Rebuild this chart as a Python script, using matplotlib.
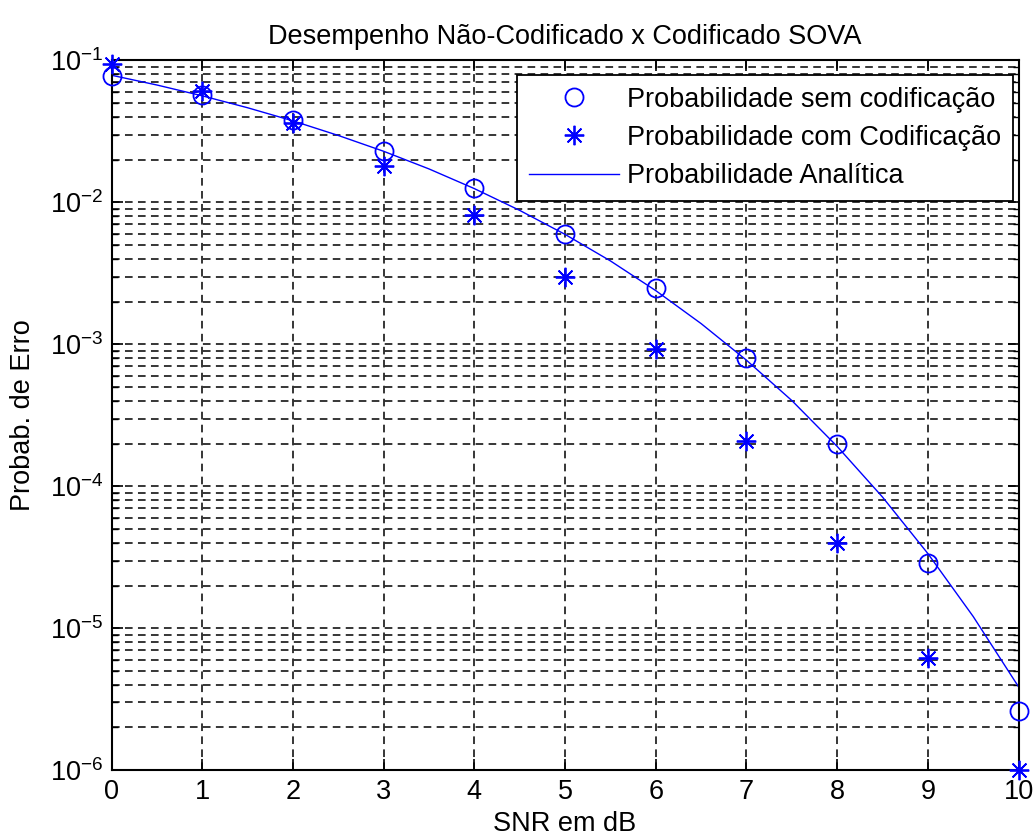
import numpy as np
import matplotlib
matplotlib.use('Agg')
from matplotlib import pyplot as plt
from matplotlib.ticker import LogLocator, NullFormatter

plt.rcParams['font.family'] = ['Liberation Sans', 'DejaVu Sans']
plt.rcParams['mathtext.fontset'] = 'custom'
plt.rcParams['mathtext.rm'] = 'Liberation Sans'
plt.rcParams['mathtext.it'] = 'Liberation Sans'
plt.rcParams['axes.unicode_minus'] = False

# data
snr = [0, 1, 2, 3, 4, 5, 6, 7, 8, 9, 10]
p_sem = [0.078, 0.057, 0.038, 0.023, 0.0126, 0.006, 0.0025, 8.0e-4, 2.0e-4, 2.9e-5, 2.6e-6]
p_com = [0.094, 0.061, 0.036, 0.018, 0.0081, 0.003, 9.3e-4, 2.1e-4, 4.0e-5, 6.2e-6, 1.0e-6]

snr_an = [0, 0.5, 1, 1.5, 2, 2.5, 3, 3.5, 4, 4.5, 5, 5.5, 6, 6.5, 7, 7.5, 8, 8.5, 9, 9.5, 10]
p_an = [0.0786, 0.0671, 0.0563, 0.0464, 0.0375, 0.0296, 0.0229, 0.0172, 0.0125, 0.00878,
        0.00595, 0.00387, 0.00239, 0.00140, 7.73e-4, 4.02e-4, 1.91e-4, 8.40e-5, 3.36e-5,
        1.21e-5, 3.87e-6]

fs = 19.5

fig = plt.figure(figsize=(10.33, 8.39), dpi=100)
ax = fig.add_axes([0.108, 0.082, 0.878, 0.846])

ax.semilogy(snr, p_sem, 'o', color='blue', mfc='none', ms=13, mew=1.3,
            label='Probabilidade sem codificação', clip_on=False, zorder=5)
ax.semilogy(snr, p_com, marker=(8, 2, 0), ls='none', color='blue', ms=14, mew=1.3,
            label='Probabilidade com Codificação', clip_on=False, zorder=5)
ax.semilogy(snr_an, p_an, '-', color='blue', lw=1.0, label='Probabilidade Analítica')

ax.set_xlim(0, 10)
ax.set_ylim(1e-6, 1e-1)
ax.set_xticks(snr)
ax.yaxis.set_major_locator(LogLocator(base=10, numticks=10))
ax.yaxis.set_minor_locator(LogLocator(base=10, subs=np.arange(2, 10), numticks=20))
ax.yaxis.set_minor_formatter(NullFormatter())

ax.grid(True, which='major', ls=(0, (5, 3.5)), color='black', lw=1.1)
ax.grid(True, which='minor', axis='y', ls=(0, (5, 3.5)), color='black', lw=1.1)
ax.tick_params(which='both', direction='in', top=True, right=True, labelsize=fs)
ax.tick_params(which='major', length=8, width=1.2, pad=6)
ax.tick_params(which='minor', length=4, width=1.0)
for s in ax.spines.values():
    s.set_linewidth(1.5)

ax.set_title('Desempenho Não-Codificado x Codificado SOVA', fontsize=fs, pad=12)
ax.set_xlabel('SNR em dB', fontsize=fs, labelpad=5)
ax.set_ylabel('Probab. de Erro', fontsize=fs, labelpad=10)

leg = ax.legend(loc='upper right', bbox_to_anchor=(0.994, 0.98), fontsize=fs,
                fancybox=False, framealpha=1, edgecolor='black', borderaxespad=0,
                handlelength=3.3, handletextpad=0.3, labelspacing=0.45, borderpad=0.45)
leg.get_frame().set_linewidth(1.3)

fig.savefig('out.png', dpi=100)
